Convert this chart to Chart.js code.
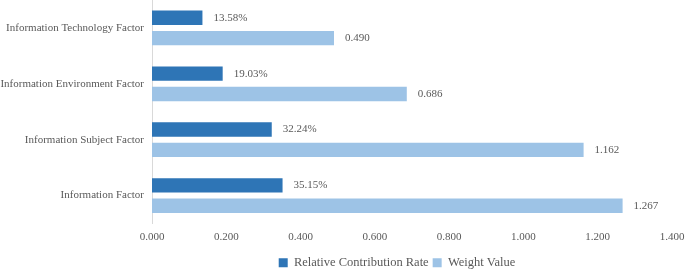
<!DOCTYPE html>
<html>
<head>
<meta charset="utf-8"/>
<title>Factor Weights</title>
<script src="https://cdn.jsdelivr.net/npm/chart.js@4.4.0/dist/chart.umd.min.js"></script>
<style>
  body { margin: 0; background: #fff; }
  #wrap { width: 685px; height: 270px; }
</style>
</head>
<body>
<div id="wrap"><canvas id="factorChart"></canvas></div>
<script>
// categories top to bottom
const factors = ["Information Technology Factor", "Information Environment Factor", "Information Subject Factor", "Information Factor"];
// relative contribution rate (fraction)
const contributionRate = [0.1358, 0.1903, 0.3224, 0.3515];
// weight value
const weightValue = [0.490, 0.686, 1.162, 1.267];
const xTicks = [0, 0.2, 0.4, 0.6, 0.8, 1.0, 1.2, 1.4];

const textColor = "#595959";
const serif = "'Liberation Serif', 'Times New Roman', serif";

// draws the value text to the right of each bar
const valueLabels = {
  id: "valueLabels",
  afterDatasetsDraw(chart) {
    const ctx = chart.ctx;
    ctx.save();
    ctx.font = "11px " + serif;
    ctx.fillStyle = textColor;
    ctx.textBaseline = "middle";
    chart.data.datasets.forEach((ds, i) => {
      const meta = chart.getDatasetMeta(i);
      meta.data.forEach((bar, j) => {
        let v = ds.data[j];
        let txt = i == 0 ? (v * 100).toFixed(2) + "%" : v.toFixed(3);
        ctx.fillText(txt, bar.x + 11, bar.y);
      });
    });
    ctx.restore();
  }
};

// the legend in the original sits a bit right of centre
const legendShift = {
  id: "legendShift",
  afterLayout(chart) {
    const shift = 397 - (chart.legend.left + chart.legend.right) / 2;
    chart.legend.left += shift;
    chart.legend.right += shift;
    chart.legend.top += 1;
    chart.legend.bottom += 1;
  }
};

new Chart(document.getElementById("factorChart"), {
  type: "bar",
  data: {
    labels: factors,
    datasets: [
      { label: "Relative Contribution Rate", data: contributionRate, backgroundColor: "#2E75B6",
        barPercentage: 0.7, categoryPercentage: 0.73 },
      { label: "Weight Value", data: weightValue, backgroundColor: "#9DC3E6",
        barPercentage: 0.7, categoryPercentage: 0.73 }
    ]
  },
  options: {
    indexAxis: "y",
    responsive: true,
    maintainAspectRatio: false,
    animation: false,
    layout: { padding: { left: 0, right: 13, top: 0, bottom: -8 } },
    plugins: {
      legend: {
        position: "bottom",
        labels: {
          boxWidth: 9, boxHeight: 9, padding: 4,
          color: textColor,
          font: { family: serif, size: 12.5 }
        }
      },
      tooltip: { enabled: false }
    },
    scales: {
      x: {
        min: 0, max: 1.4,
        afterBuildTicks: (axis) => { axis.ticks = xTicks.map(v => ({ value: v })); },
        afterFit: (axis) => { axis.height = 28; axis.paddingLeft = 0; axis.paddingRight = 0; },
        grid: { display: false, drawTicks: false },
        border: { display: false },
        ticks: {
          color: textColor, padding: 7,
          font: { family: serif, size: 11 },
          callback: (v) => Number(v).toFixed(3)
        }
      },
      y: {
        grid: { display: false, drawTicks: false },
        border: { display: true, color: "#d9d9d9", width: 1 },
        afterFit: (axis) => { axis.width = 152; axis.paddingTop = 0; axis.paddingBottom = 0; },
        ticks: {
          color: textColor, padding: 8,
          font: { family: serif, size: 11 }
        }
      }
    }
  },
  plugins: [valueLabels, legendShift]
});
</script>
</body>
</html>
